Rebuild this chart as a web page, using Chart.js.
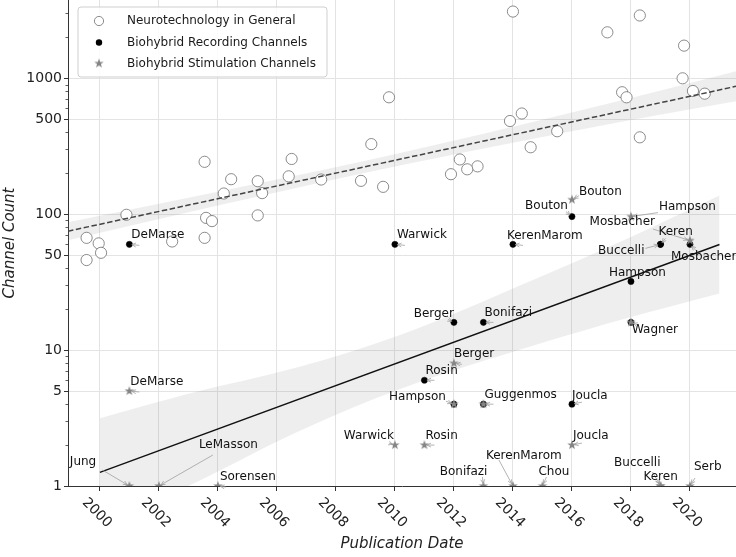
<!DOCTYPE html>
<html>
<head>
<meta charset="utf-8">
<script src="https://cdn.jsdelivr.net/npm/chart.js@4.4.1/dist/chart.umd.min.js"></script>
<style>
html,body{margin:0;padding:0;background:#fff;}
#wrap{width:736px;height:557px;position:relative;}
</style>
</head>
<body>
<div id="wrap"><canvas id="c" width="736" height="557"></canvas></div>
<script>
// ---------------- DATA ----------------
const neuroYears = [2014.0, 2018.3, 2017.2, 2019.8, 2019.75, 2020.1, 2020.5, 2017.7, 2017.85, 2018.3,
  2015.5, 2014.3, 2013.9, 2014.6, 2009.8, 2009.2, 2012.2, 2012.8, 2012.45, 2011.9,
  2008.85, 2009.6, 2007.5, 2006.5, 2006.4, 2004.45, 2005.35, 2005.5, 2004.2, 2003.55,
  2005.35, 2003.6, 2003.8, 2003.55, 2002.45, 2000.9, 1999.55, 1999.96, 2000.04, 1999.55];
const neuroChannels = [3100, 2900, 2180, 1740, 1000, 807, 771, 790, 725, 368,
  408, 551, 485, 311, 725, 328, 253, 225, 214, 197,
  176, 159, 180, 255, 190, 181, 175, 143, 142, 243,
  98, 94, 89, 67, 63, 99, 67, 61, 52, 46];

const recNames = ['DeMarse','Warwick','Rosin','Berger','Hampson','Bonifazi','Guggenmos','KerenMarom',
  'Bouton','Joucla','Hampson','Wagner','Buccelli','Keren','Mosbacher'];
const recYears = [2001, 2010, 2011, 2012, 2012, 2013, 2013, 2014, 2016, 2016, 2018, 2018, 2019, 2019, 2020];
const recChannels = [60, 60, 6, 16, 4, 16, 4, 60, 96, 4, 32, 16, 60, 60, 60];

const stimNames = ['Jung','DeMarse','LeMasson','Sorensen','Warwick','Rosin','Berger','Hampson','Bonifazi',
  'Guggenmos','KerenMarom','Chou','Bouton','Joucla','Hampson','Wagner','Buccelli','Keren','Mosbacher','Serb'];
const stimYears = [2001, 2001, 2002, 2004, 2010, 2011, 2012, 2012, 2013, 2013, 2014, 2015, 2016, 2016, 2018, 2018, 2019, 2019, 2020, 2020];
const stimChannels = [1, 5, 1, 1, 2, 2, 8, 4, 1, 4, 1, 1, 128, 2, 96, 16, 1, 1, 64, 1];

// regression lines and confidence bands
const neuroFitYears = [1998.92, 2021.56];
const neuroFitValues = [75, 873];
const neuroBandYears = [1998.92, 2004, 2009, 2014, 2018, 2021.56];
const neuroBandUpper = [87.3, 146.6, 247.8, 440.6, 715, 1125];
const neuroBandLower = [64.4, 115.7, 202, 336, 493, 678];

const bioFitYears = [2000, 2021.0];
const bioFitValues = [1.26, 59.9];
const bioBandYears = [2000, 2003, 2006.8, 2010.2, 2014.7, 2018, 2021.0];
const bioBandUpper = [3.15, 4.77, 7.56, 12.98, 32.9, 68.0, 137.2];
const bioBandLower = [0.506, 1.0, 2.56, 5.2, 10.8, 17.5, 26.1];

const yearTicks = [2000, 2002, 2004, 2006, 2008, 2010, 2012, 2014, 2016, 2018, 2020];
const countTicks = [1, 5, 10, 50, 100, 500, 1000];
const minorCountTicks = [2,3,4,6,7,8,9,20,30,40,60,70,80,90,200,300,400,600,700,800,900,2000,3000];

const seriesLabels = ['Neurotechnology in General', 'Biohybrid Recording Channels', 'Biohybrid Stimulation Channels'];

// ---------------- LAYOUT / STYLE ----------------
const FONT = "'DejaVu Sans', 'Liberation Sans', sans-serif";
Chart.defaults.font.family = FONT;

// label layout: [dx, dy, align, arrowStartDx, arrowStartDy] in pixels relative to the point
const recLabelLayout = [
  [2,-9,'left',10,1],
  [2,-9,'left',10,1],
  [1,-9,'left',10,0],
  [0,-8,'right',-6,-3],
  [-8,-7,'right',-8,-3],
  [1,-9,'left',10,0],
  [1,-9,'left',10,0],
  [-6,-8,'left',10,1],
  [-4,-11,'right',-6,-5],
  [0,-8,'left',10,-2],
  [-22,-9,'left',null,null],
  [1,8,'left',8,3],
  [-16,7,'right',-15,4],
  [-2,-12,'left',5,-6],
  [-19,13,'left',8,8]
];
const stimLabelLayout = [
  [-59.5,-24,'left',-27,-16],
  [1,-9,'left',10,1],
  [40,-41,'left',54,-31],
  [2,-9,'left',8,1],
  [-1,-9,'right',-6,-2],
  [1,-9,'left',10,0],
  [0,-9,'left',8,1],
  null,
  [4,-14,'right',-1,-9],
  null,
  [-27,-30,'left',-14,-26],
  [-4,-14,'left',4,-9],
  [7,-8,'left',7,-4],
  [1,-9,'left',10,-2],
  [28,-10,'left',27,-4],
  null,
  [0,-23,'right',-8,-14],
  [-17,-9,'left',-2,-4],
  [-35,-18.5,'right',-37,-11.5],
  [4,-19,'left',5,-8]
];

function makeStar(R, color) {
  const c = document.createElement('canvas');
  const s = Math.ceil(R * 2 + 2);
  c.width = s; c.height = s;
  const g = c.getContext('2d');
  g.fillStyle = color;
  g.beginPath();
  const r = R * 0.4, cx = s / 2, cy = s / 2;
  for (let k = 0; k < 10; k++) {
    const a = -Math.PI / 2 + k * Math.PI / 5;
    const rr = (k % 2) ? r : R;
    g.lineTo(cx + rr * Math.cos(a), cy + rr * Math.sin(a));
  }
  g.closePath();
  g.fill();
  return c;
}
const STAR_COLOR = '#858585';
const starImg = makeStar(5, STAR_COLOR);

const pts = (xs, ys) => xs.map((v, i) => ({x: v, y: ys[i]}));

// ---------------- PLUGINS ----------------
const axisTextPlugin = {
  id: 'axisText',
  afterDraw(chart) {
    const x = chart.scales.x, y = chart.scales.y, ctx = chart.ctx;
    ctx.save();
    ctx.strokeStyle = '#333';
    ctx.lineWidth = 0.8;
    minorCountTicks.forEach(v => {
      const py = Math.round(y.getPixelForValue(v)) + 0.5;
      ctx.beginPath();
      ctx.moveTo(y.right - 2.5, py);
      ctx.lineTo(y.right, py);
      ctx.stroke();
    });
    ctx.font = '14px ' + FONT;
    ctx.fillStyle = '#222';
    ctx.textAlign = 'right';
    ctx.textBaseline = 'middle';
    countTicks.forEach(v => {
      ctx.fillText(String(v), y.right - 6, y.getPixelForValue(v) + 0.5);
    });
    ctx.textAlign = 'center';
    yearTicks.forEach(v => {
      const px = x.getPixelForValue(v);
      ctx.save();
      ctx.translate(px - 3, x.top + 27);
      ctx.rotate(Math.PI / 4);
      ctx.fillText(String(v), 0, 0);
      ctx.restore();
    });
    ctx.restore();
  }
};

function drawArrow(ctx, x0, y0, x1, y1) {
  const dx = x1 - x0, dy = y1 - y0;
  const len = Math.hypot(dx, dy);
  if (len < 3) return;
  const ux = dx / len, uy = dy / len;
  const ex = x1 - ux * 2.5, ey = y1 - uy * 2.5;
  ctx.beginPath();
  ctx.moveTo(x0, y0);
  ctx.lineTo(ex, ey);
  const h = 4.5, a = 0.45;
  const bx = -ux, by = -uy;
  ctx.moveTo(ex + h * (bx * Math.cos(a) - by * Math.sin(a)), ey + h * (bx * Math.sin(a) + by * Math.cos(a)));
  ctx.lineTo(ex, ey);
  ctx.lineTo(ex + h * (bx * Math.cos(-a) - by * Math.sin(-a)), ey + h * (bx * Math.sin(-a) + by * Math.cos(-a)));
  ctx.stroke();
}

const annotPlugin = {
  id: 'annot',
  afterDatasetsDraw(chart) {
    const ctx = chart.ctx, x = chart.scales.x, y = chart.scales.y;
    const groups = [[recNames, recYears, recChannels, recLabelLayout], [stimNames, stimYears, stimChannels, stimLabelLayout]];
    ctx.save();
    ctx.strokeStyle = '#a0a0a0';
    ctx.lineWidth = 0.8;
    groups.forEach(([names, ys, vs, lay]) => {
      names.forEach((n, i) => {
        const L = lay[i];
        if (!L || L[3] === null) return;
        const px = x.getPixelForValue(ys[i]), py = y.getPixelForValue(vs[i]);
        drawArrow(ctx, px + L[3], py + L[4], px, py);
      });
    });
    ctx.font = '12px ' + FONT;
    ctx.fillStyle = '#111';
    ctx.textBaseline = 'middle';
    groups.forEach(([names, ys, vs, lay]) => {
      names.forEach((n, i) => {
        const L = lay[i];
        if (!L) return;
        const px = x.getPixelForValue(ys[i]), py = y.getPixelForValue(vs[i]);
        ctx.textAlign = L[2];
        ctx.fillText(n, px + L[0], py + L[1]);
      });
    });
    ctx.restore();
  }
};

const legendPlugin = {
  id: 'boxLegend',
  afterDraw(chart) {
    const ctx = chart.ctx;
    const bx = 78, by = 7, bw = 249, bh = 70, r = 3;
    ctx.save();
    ctx.beginPath();
    ctx.moveTo(bx + r, by);
    ctx.arcTo(bx + bw, by, bx + bw, by + bh, r);
    ctx.arcTo(bx + bw, by + bh, bx, by + bh, r);
    ctx.arcTo(bx, by + bh, bx, by, r);
    ctx.arcTo(bx, by, bx + bw, by, r);
    ctx.closePath();
    ctx.fillStyle = 'rgba(255,255,255,0.85)';
    ctx.fill();
    ctx.strokeStyle = '#cfcfcf';
    ctx.lineWidth = 1;
    ctx.stroke();
    const rows = [21, 42.5, 63.5];
    const mx = 99;
    ctx.beginPath();
    ctx.arc(mx, rows[0], 4.6, 0, Math.PI * 2);
    ctx.fillStyle = '#fff'; ctx.fill();
    ctx.strokeStyle = '#707070'; ctx.lineWidth = 0.8; ctx.stroke();
    ctx.beginPath();
    ctx.arc(mx, rows[1], 3.2, 0, Math.PI * 2);
    ctx.fillStyle = '#000'; ctx.fill();
    ctx.drawImage(starImg, mx - starImg.width / 2, rows[2] - starImg.height / 2);
    ctx.font = '12px ' + FONT;
    ctx.fillStyle = '#1a1a1a';
    ctx.textAlign = 'left';
    ctx.textBaseline = 'middle';
    seriesLabels.forEach((t, i) => ctx.fillText(t, 127, rows[i]));
    ctx.restore();
  }
};

// ---------------- CHART ----------------
const GRID = '#e3e3e3';
new Chart(document.getElementById('c'), {
  type: 'scatter',
  data: {
    datasets: [
      {
        label: seriesLabels[2],
        data: pts(stimYears, stimChannels),
        pointStyle: starImg,
        pointRadius: 5,
        backgroundColor: STAR_COLOR,
        borderColor: STAR_COLOR
      },
      {
        label: seriesLabels[1],
        data: pts(recYears, recChannels),
        pointStyle: 'circle',
        pointRadius: 3.1,
        backgroundColor: '#000',
        borderColor: '#000',
        borderWidth: 0.5
      },
      {
        type: 'line',
        label: 'neuro fit',
        data: pts(neuroFitYears, neuroFitValues),
        borderColor: '#444',
        borderWidth: 1.5,
        borderDash: [5.5, 2.5],
        pointRadius: 0,
        fill: false
      },
      {
        type: 'line',
        label: 'bio fit',
        data: pts(bioFitYears, bioFitValues),
        borderColor: '#111',
        borderWidth: 1.5,
        pointRadius: 0,
        fill: false
      },
      {
        label: seriesLabels[0],
        data: pts(neuroYears, neuroChannels),
        pointStyle: 'circle',
        pointRadius: 5.6,
        backgroundColor: '#fff',
        borderColor: '#6e6e6e',
        borderWidth: 0.8
      },
      {
        type: 'line',
        label: 'neuro band upper',
        data: pts(neuroBandYears, neuroBandUpper),
        borderWidth: 0,
        borderColor: 'rgba(0,0,0,0)',
        pointRadius: 0,
        cubicInterpolationMode: 'monotone',
        fill: '+1',
        backgroundColor: 'rgba(120,120,120,0.13)'
      },
      {
        type: 'line',
        label: 'neuro band lower',
        data: pts(neuroBandYears, neuroBandLower),
        borderWidth: 0,
        borderColor: 'rgba(0,0,0,0)',
        pointRadius: 0,
        cubicInterpolationMode: 'monotone',
        fill: false
      },
      {
        type: 'line',
        label: 'bio band upper',
        data: pts(bioBandYears, bioBandUpper),
        borderWidth: 0,
        borderColor: 'rgba(0,0,0,0)',
        pointRadius: 0,
        cubicInterpolationMode: 'monotone',
        fill: '+1',
        backgroundColor: 'rgba(120,120,120,0.13)'
      },
      {
        type: 'line',
        label: 'bio band lower',
        data: pts(bioBandYears, bioBandLower),
        borderWidth: 0,
        borderColor: 'rgba(0,0,0,0)',
        pointRadius: 0,
        cubicInterpolationMode: 'monotone',
        fill: false
      }
    ]
  },
  options: {
    responsive: false,
    animation: false,
    events: [],
    layout: { padding: 0, autoPadding: false },
    plugins: {
      legend: { display: false },
      tooltip: { enabled: false }
    },
    scales: {
      x: {
        type: 'linear',
        min: 1998.92,
        max: 2021.56,
        afterBuildTicks: s => { s.ticks = yearTicks.map(v => ({value: v})); },
        afterFit: s => { s.height = 71; s.paddingLeft = 0; s.paddingRight = 0; },
        ticks: { display: false },
        grid: { color: GRID, lineWidth: 1, drawTicks: true, tickLength: 5, tickColor: '#333', tickWidth: 1 },
        border: { display: true, color: '#333', width: 1 },
        title: {
          display: true,
          text: 'Publication Date',
          color: '#222',
          font: { family: FONT, size: 15, style: 'italic' },
          padding: { top: 0, bottom: 4 }
        }
      },
      y: {
        type: 'logarithmic',
        min: 1,
        max: 3770,
        afterBuildTicks: s => { s.ticks = countTicks.map(v => ({value: v})); },
        afterFit: s => { s.width = 68; s.paddingTop = 0; s.paddingBottom = 0; },
        ticks: { display: false },
        grid: { color: GRID, lineWidth: 1, drawTicks: true, tickLength: 4, tickColor: '#333', tickWidth: 1 },
        border: { display: true, color: '#333', width: 1 },
        title: {
          display: true,
          text: 'Channel Count',
          color: '#222',
          font: { family: FONT, size: 15, style: 'italic' },
          padding: { top: 1, bottom: 0 }
        }
      }
    }
  },
  plugins: [annotPlugin, axisTextPlugin, legendPlugin]
});
</script>
</body>
</html>
